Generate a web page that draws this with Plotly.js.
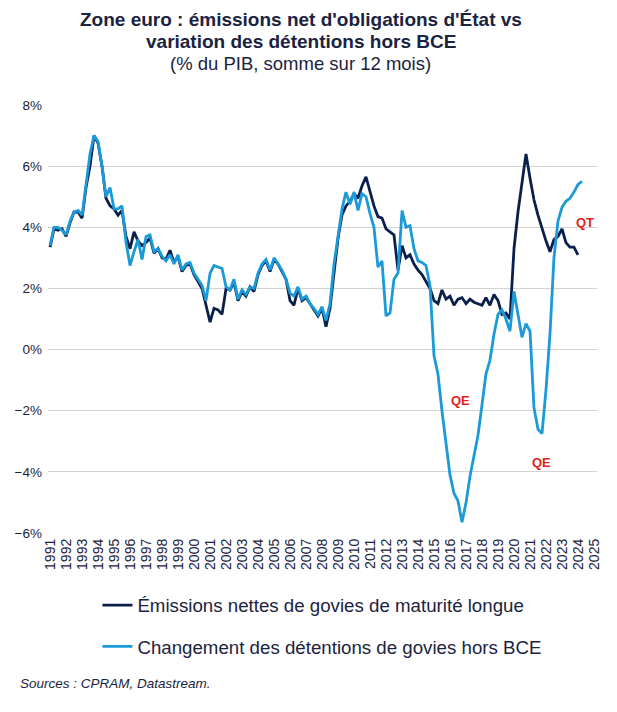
<!DOCTYPE html>
<html>
<head>
<meta charset="utf-8">
<script src="https://cdn.plot.ly/plotly-3.0.1.min.js"></script>
<style>html,body{margin:0;padding:0;background:#fff;}#chart{width:617px;height:712px;}</style>
</head>
<body>
<div id="chart"></div>
<script>
// Quarterly observations starting January 1991 (Jan, Apr, Jul, Oct each year)
const startYear = 1991;
const emissions = [
  3.35, 3.95, 3.9, 3.95,
  3.7, 4.15, 4.5, 4.5,
  4.3, 5.3, 6.0, 7.0,
  6.75, 6.0, 4.95, 4.7,
  4.6, 4.4, 4.55, 3.7,
  3.3, 3.85, 3.55, 3.4,
  3.5, 3.65, 3.15, 3.3,
  3.0, 2.95, 3.25, 2.85,
  3.05, 2.55, 2.75, 2.8,
  2.45, 2.2, 2.0, 1.45,
  0.9, 1.35, 1.3, 1.15,
  2.0, 1.95, 2.2, 1.6,
  1.9, 1.75, 2.05, 1.9,
  2.45, 2.75, 2.9, 2.55,
  2.95, 2.8, 2.55, 2.3,
  1.6, 1.45, 2.0, 1.6,
  1.7, 1.5, 1.3, 1.1,
  1.35, 0.75, 1.35, 2.6,
  3.65, 4.4, 4.7, 4.85,
  5.1, 4.95, 5.35, 5.65,
  5.2, 4.7, 4.35, 4.3,
  3.95, 3.85, 3.75, 2.6,
  3.4, 3.0, 3.1, 2.8,
  2.6, 2.45, 2.2, 2.0,
  1.6, 1.5, 1.95, 1.65,
  1.75, 1.45, 1.65, 1.7,
  1.5, 1.65, 1.55, 1.5,
  1.45, 1.7, 1.45, 1.8,
  1.6, 1.15, 1.2, 1.0,
  3.3, 4.5, 5.4, 6.4,
  5.6, 4.9, 4.4, 3.95,
  3.55, 3.2, 3.6, 3.7,
  3.95, 3.5, 3.35, 3.35,
  3.1, null
];
const holdings = [
  3.4, 4.0, 4.0, 3.9,
  3.75, 4.2, 4.5, 4.55,
  4.4, 5.45, 6.4, 7.0,
  6.8, 6.0, 5.0, 5.3,
  4.6, 4.6, 4.7, 3.5,
  2.75, 3.2, 3.6, 2.95,
  3.7, 3.75, 3.2, 3.3,
  3.05, 2.9, 3.1, 2.8,
  3.1, 2.6, 2.8, 2.85,
  2.5, 2.3, 2.1, 1.6,
  2.5, 2.75, 2.7, 2.65,
  2.05, 1.95, 2.3, 1.65,
  1.95, 1.8, 2.05, 2.0,
  2.5, 2.8, 2.95, 2.6,
  3.0, 2.8, 2.6, 2.3,
  1.85, 1.75, 2.05, 1.65,
  1.75, 1.5, 1.35, 1.15,
  1.4, 0.95, 1.5, 2.8,
  3.75, 4.6, 5.15, 4.75,
  5.15, 4.55, 5.1, 5.0,
  4.45, 4.0, 2.7, 2.9,
  1.1, 1.2, 2.3, 2.5,
  4.55, 4.0, 4.05, 3.3,
  2.9, 2.85, 2.75, 2.1,
  -0.2, -0.8, -2.0, -3.1,
  -4.1, -4.7, -4.95, -5.65,
  -5.0, -4.15, -3.5, -2.8,
  -1.8, -0.8, -0.35, 0.5,
  1.15, 1.3, 1.0, 0.6,
  1.9, 1.1, 0.4, 0.85,
  0.6, -1.9, -2.6, -2.75,
  -1.3, 0.5, 3.0, 4.2,
  4.65, 4.85, 4.95, 5.15,
  5.4, 5.5
];
const yearLabels = ['1991','1992','1993','1994','1995','1996','1997','1998','1999','2000',
  '2001','2002','2003','2004','2005','2006','2007','2008','2009','2010','2011','2012',
  '2013','2014','2015','2016','2017','2018','2019','2020','2021','2022','2023','2024','2025'];
const seriesNames = ['Émissions nettes de govies de maturité longue',
                     'Changement des détentions de govies hors BCE'];
const titleLines = ['Zone euro : émissions net d\'obligations d\'État vs',
                    'variation des détentions hors BCE',
                    '(% du PIB, somme sur 12 mois)'];
const notes = [
  {text: 'QE', date: '2016-09-01', value: -1.65},
  {text: 'QE', date: '2021-09-15', value: -3.7},
  {text: 'QT', date: '2024-06-15', value: 4.15}
];

const pad = n => (n < 10 ? '0' : '') + n;
const dates = holdings.map((_, i) => (startYear + Math.floor(i / 4)) + '-' + pad(1 + 3 * (i % 4)) + '-01');
const tickVals = yearLabels.map(y => y + '-01-01');

const navy = '#0b1f4b';
const sky = '#1a9ad8';
const txt = '#1b2340';
const FONT = 'Liberation Sans, Arial, sans-serif';

const traces = [
  {x: dates, y: emissions, name: seriesNames[0], type: 'scatter', mode: 'lines',
   line: {color: navy, width: 2.8}, legendgroup: 'a', connectgaps: false},
  {x: dates, y: holdings, name: seriesNames[1], type: 'scatter', mode: 'lines',
   line: {color: sky, width: 2.8}, legendgroup: 'b'}
];

// title lines placed in paper coordinates above the plot area
const titleAnn = [
  {text: '<b>' + titleLines[0] + '</b>', y: 1.199, size: 19},
  {text: '<b>' + titleLines[1] + '</b>', y: 1.148, size: 19},
  {text: titleLines[2], y: 1.097, size: 18.5}
].map(t => ({
  x: 0.46, xref: 'paper', xanchor: 'center', y: t.y, yref: 'paper', yanchor: 'middle',
  text: t.text, showarrow: false, font: {family: FONT, size: t.size, color: txt}
}));

const layout = {
  width: 617, height: 712,
  margin: {l: 48, r: 20, t: 105, b: 179},
  paper_bgcolor: '#fff', plot_bgcolor: '#fff',
  font: {family: FONT, color: txt},
  xaxis: {
    type: 'date',
    range: ['1990-11-15', '2025-03-10'],
    tickmode: 'array', tickvals: tickVals, ticktext: yearLabels,
    tickangle: -90, tickfont: {family: FONT, size: 14, color: txt},
    showgrid: false, zeroline: false, showline: false, ticks: '',
    ticklabelstandoff: 2
  },
  yaxis: {
    range: [-6, 8], dtick: 2, tick0: 0, ticksuffix: '%',
    tickfont: {family: FONT, size: 13.5, color: txt},
    showgrid: true, gridcolor: '#d3d3d3', gridwidth: 1,
    zeroline: false, showline: false, ticks: '', ticklabelstandoff: 5
  },
  showlegend: true,
  legend: {
    x: 0.09, xanchor: 'left', y: -0.125, yanchor: 'top',
    font: {family: FONT, size: 18.7, color: txt},
    traceorder: 'grouped', tracegroupgap: 14,
    bgcolor: 'rgba(0,0,0,0)', itemwidth: 30
  },
  annotations: notes.map(n => ({
    x: n.date, y: n.value, xref: 'x', yref: 'y', text: '<b>' + n.text + '</b>',
    showarrow: false, font: {family: FONT, size: 13, color: '#e0251e'}
  })).concat([{
    x: -0.055, xref: 'paper', xanchor: 'left', y: -0.352, yref: 'paper', yanchor: 'middle',
    text: '<i>Sources : CPRAM, Datastream.</i>', showarrow: false,
    font: {family: FONT, size: 13.5, color: txt}
  }]).concat(titleAnn)
};

Plotly.newPlot('chart', traces, layout, {displayModeBar: false, staticPlot: true});
</script>
</body>
</html>
